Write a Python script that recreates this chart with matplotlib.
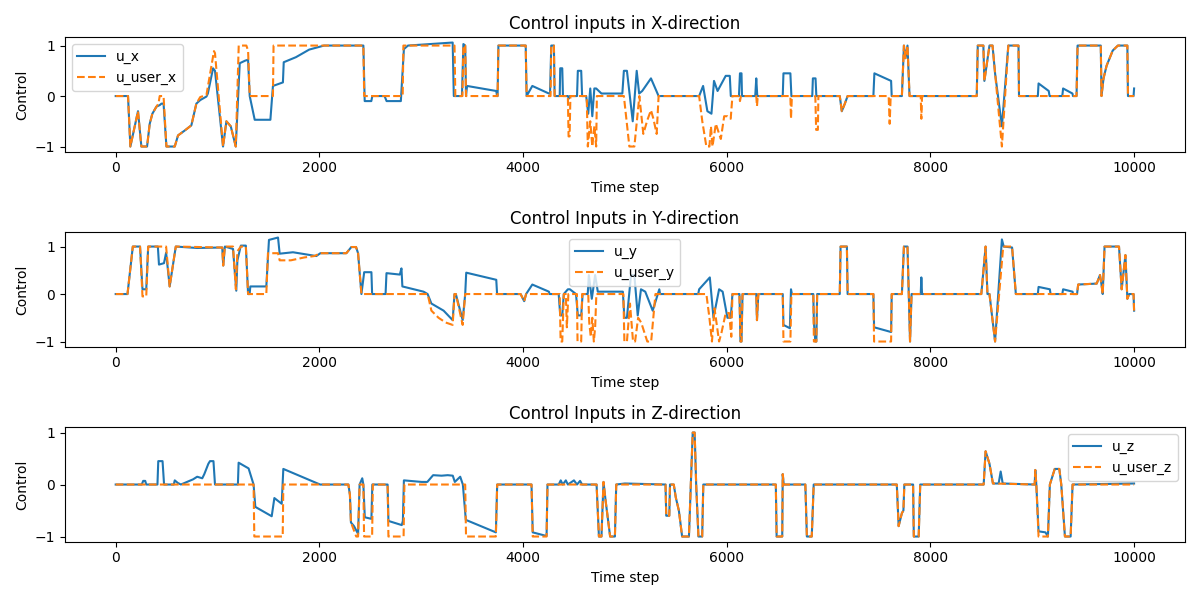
import numpy as np
import matplotlib.pyplot as plt

# (time step, value) breakpoints
u_x = [(0, 0), (121, 0), (144, -1), (219, -0.3), (252, -1), (308, -1), (334, -0.55), (360, -0.35),
       (400, -0.21), (432, -0.18), (450, -0.15), (470, -0.15), (498, -1), (580, -1), (612, -0.78),
       (680, -0.68), (743, -0.58), (792, -0.15), (830, -0.08), (891, -0.01), (905, 0.05), (956, 0.55),
       (975, 0.5), (1054, -1), (1087, -0.5), (1130, -0.6), (1179, -1), (1218, 0.65), (1270, 0.7),
       (1300, 0.72), (1316, 0), (1365, -0.47), (1519, -0.47), (1544, 0.2), (1642, 0.27), (1650, 0.67),
       (1770, 0.77), (1900, 0.92), (2046, 1.0), (2432, 1.0), (2445, -0.1), (2510, -0.1), (2520, 0),
       (2640, 0), (2660, -0.1), (2800, -0.1), (2830, 0.93), (2870, 1.0), (3309, 1.06), (3320, 0),
       (3400, 0), (3414, 1.03), (3432, 1.0), (3440, 0), (3450, 0.2), (3737, 0.1), (3745, 0), (3750, 0),
       (3758, 1), (4026, 1), (4035, 0), (4091, 0.2), (4254, 0.05), (4265, 0.05), (4277, 1), (4303, 1),
       (4310, 0), (4360, 0), (4365, 0.55), (4385, 0.55), (4392, 0), (4440, 0), (4450, -0.05), (4460, 0),
       (4530, 0), (4538, 0.5), (4571, 0.5), (4580, 0), (4620, 0), (4640, -0.35), (4660, 0.15),
       (4680, -0.4), (4700, 0.15), (4718, 0.15), (4770, 0.05), (4975, 0.05), (4990, 0.5), (5020, 0.5),
       (5077, -0.5), (5116, 0.5), (5140, 0.05), (5170, 0.1), (5256, 0.35), (5331, 0), (5729, 0),
       (5768, 0.2), (5810, -0.3), (5850, -0.35), (5875, 0.3), (5910, 0.1), (5990, 0.4), (6030, 0.4),
       (6040, 0), (6120, 0), (6130, 0.45), (6145, 0.45), (6150, 0), (6280, 0), (6290, 0.35), (6300, 0),
       (6550, 0), (6557, 0.45), (6625, 0.45), (6635, 0), (6840, 0), (6846, 0.35), (6872, 0.35), (6880, 0),
       (7110, 0), (7130, -0.3), (7160, -0.15), (7187, 0), (7440, 0), (7450, 0.45), (7614, 0.3), (7620, 0),
       (7720, 0), (7740, 1.0), (7755, 0.75), (7775, 1.0), (7795, 0), (8455, 0), (8465, 1), (8520, 1),
       (8530, 0.3), (8580, 1), (8610, 1), (8635, 0.45), (8702, -0.6), (8765, 1), (8865, 1), (8870, 0),
       (9055, 0), (9062, 0.25), (9162, 0.1), (9170, 0), (9295, 0), (9303, 0.15), (9395, 0.05), (9400, 0),
       (9435, 0), (9445, 1), (9673, 1), (9680, 0), (9700, 0.35), (9730, 0.6), (9790, 0.9), (9841, 1),
       (9934, 1), (9940, 0), (9995, 0), (10000, 0.15)]

u_user_x = [(0, 0), (121, 0), (144, -1), (219, -0.3), (252, -1), (308, -1), (334, -0.55), (360, -0.35),
            (400, -0.21), (420, -0.15), (432, 0), (470, 0), (498, -1), (580, -1), (612, -0.78),
            (680, -0.68), (743, -0.58), (792, -0.15), (830, -0.02), (891, 0.02), (965, 0.89), (975, 0.85),
            (1054, -1), (1087, -0.5), (1130, -0.6), (1179, -1), (1208, 1), (1283, 1), (1300, 0.9),
            (1316, 0), (1544, 0), (1550, 1), (2432, 1), (2440, 0), (2818, 0), (2825, 1), (3327, 1),
            (3335, 0), (3405, 0), (3414, 1), (3432, 1), (3440, 0), (3750, 0), (3758, 1), (4026, 1),
            (4035, 0), (4270, 0), (4277, 1), (4303, 1), (4310, 0), (4440, 0), (4447, -0.8), (4457, -0.8),
            (4465, 0), (4625, 0), (4636, -1), (4660, -0.5), (4680, -1), (4700, -0.6), (4718, -1), (4725, 0),
            (4990, 0), (5044, -1), (5093, -1), (5142, 0), (5181, -0.75), (5220, -0.48), (5256, -0.28),
            (5280, -0.45), (5312, -0.75), (5331, 0), (5729, 0), (5760, -0.5), (5800, -1), (5830, -1),
            (5845, -0.6), (5860, -1), (5893, -0.55), (5942, -0.85), (5975, -0.4), (6007, -0.4),
            (6039, -0.45), (6056, 0), (6125, 0), (6130, -0.1), (6140, 0), (6290, 0), (6297, -0.2),
            (6305, 0), (6625, 0), (6631, -0.45), (6640, 0), (6870, 0), (6878, -0.67), (6895, -0.67),
            (6900, 0), (7110, 0), (7130, -0.3), (7160, -0.15), (7187, 0), (7590, 0), (7600, -0.55),
            (7610, 0), (7720, 0), (7740, 1), (7755, 0.75), (7775, 1), (7795, 0), (7905, 0), (7911, -0.45),
            (7918, 0), (8455, 0), (8465, 1), (8520, 1), (8530, 0.3), (8580, 1), (8610, 1), (8702, -1),
            (8765, 1), (8865, 1), (8870, 0), (9435, 0), (9445, 1), (9673, 1), (9680, 0), (9700, 0.35),
            (9730, 0.6), (9790, 0.9), (9841, 1), (9934, 1), (9940, 0), (10000, 0)]

u_y = [(0, 0), (116, 0), (168, 1), (239, 1), (263, 0.1), (300, 0.1), (319, 1), (414, 1), (425, 0.62),
       (474, 0.65), (495, 0.87), (530, 0.16), (590, 1), (800, 0.97), (1046, 0.98), (1056, 0.6),
       (1072, 1.0), (1152, 0.95), (1184, 0.07), (1195, 0.71), (1229, 1.02), (1278, 1.02), (1300, 0),
       (1315, 0), (1322, 0.16), (1479, 0.16), (1505, 1.14), (1594, 1.19), (1610, 0.85), (1741, 0.88),
       (1970, 0.8), (2010, 0.86), (2265, 0.86), (2314, 0.99), (2360, 0.99), (2380, 0.86), (2413, 0),
       (2440, 0.46), (2511, 0.46), (2518, 0), (2650, 0), (2659, 0.44), (2790, 0.41), (2806, 0.54),
       (2815, 0.16), (3023, 0.05), (3063, 0), (3100, -0.2), (3220, -0.35), (3309, -0.55), (3327, 0),
       (3340, 0), (3407, -0.55), (3432, 0), (3442, 0.45), (3737, 0.3), (3745, 0), (3976, 0),
       (4011, -0.15), (4030, 0), (4091, 0.2), (4254, 0.05), (4260, 0), (4350, 0), (4365, -0.45),
       (4385, -0.45), (4400, 0), (4440, 0.1), (4460, 0.1), (4520, 0), (4538, -0.45), (4571, -0.45),
       (4585, 0), (4635, 0), (4646, 0.4), (4675, -0.1), (4708, 0.4), (4734, 0.05), (4980, 0.05),
       (4995, -0.5), (5020, -0.5), (5060, 0.4), (5093, 0.4), (5126, -0.45), (5158, 0.1), (5200, 0.05),
       (5273, -0.35), (5338, 0.1), (5345, 0), (5720, 0), (5729, 0.1), (5834, 0.35), (5870, -0.5),
       (5925, 0.1), (5960, 0.05), (6007, -0.5), (6040, -0.5), (6056, 0), (6125, 0), (6135, -1),
       (6145, -1), (6155, 0), (6290, 0), (6297, -0.55), (6310, 0), (6550, 0), (6557, -0.65),
       (6620, -0.72), (6631, 0.1), (6640, 0), (6850, 0), (6856, -0.6), (6870, -1), (6880, -1), (6888, 0),
       (7110, 0), (7118, 1), (7180, 1), (7187, 0), (7440, 0), (7447, -0.7), (7614, -0.8), (7620, 0),
       (7720, 0), (7740, 1), (7775, 1), (7800, -1), (7815, 0), (7905, 0), (7911, 0.35), (7918, 0),
       (8500, 0), (8542, 1), (8560, 0), (8580, 0), (8635, -1), (8702, 1.15), (8720, 1.0), (8802, 0.98),
       (8839, 0), (9055, 0), (9062, 0.15), (9173, 0.1), (9180, 0), (9295, 0), (9303, 0.1), (9396, 0.05),
       (9400, 0), (9440, 0), (9451, 0.2), (9633, 0.22), (9665, 0.4), (9680, 0.2), (9692, 0), (9710, 1),
       (9852, 1), (9878, 0.1), (9915, 0.82), (9934, -0.1), (9952, 0), (9995, 0), (10000, -0.35)]

u_user_y = [(0, 0), (116, 0), (168, 1), (239, 1), (263, -0.05), (300, -0.05), (319, 1), (495, 1),
            (530, 0.16), (590, 1), (1046, 0.98), (1056, 0.6), (1072, 1), (1152, 1), (1180, 0.1),
            (1195, 0.9), (1229, 1), (1278, 1), (1300, 0), (1479, 0), (1495, 0.86), (1594, 0.86),
            (1610, 0.71), (1720, 0.71), (1850, 0.77), (1950, 0.8), (2010, 0.86), (2265, 0.86),
            (2314, 0.99), (2360, 0.99), (2380, 0.86), (2413, 0), (3063, 0), (3100, -0.35), (3170, -0.5),
            (3240, -0.6), (3309, -0.65), (3327, 0), (3340, 0), (3407, -0.65), (3432, 0), (3976, 0),
            (4011, -0.15), (4030, 0), (4360, 0), (4369, -1), (4385, -1), (4400, 0), (4420, 0),
            (4430, -0.7), (4445, 0), (4529, 0), (4535, -1), (4571, -1), (4580, 0), (4640, 0), (4650, -0.6),
            (4665, -0.9), (4680, -0.5), (4695, -1), (4708, -0.7), (4720, 0), (4985, 0), (4995, -1),
            (5020, -1), (5050, -0.2), (5080, -1), (5100, -1), (5130, -0.5), (5160, -0.6), (5220, -1),
            (5258, -1), (5300, 0), (5800, 0), (5830, -0.5), (5855, -1), (5880, -0.3), (5925, -1),
            (5950, -0.8), (5990, -0.4), (6023, -0.4), (6045, -0.9), (6056, 0), (6125, 0), (6135, -1),
            (6145, -1), (6155, 0), (6290, 0), (6297, -0.55), (6310, 0), (6550, 0), (6557, -1), (6625, -1),
            (6635, 0), (6850, 0), (6856, -1), (6880, -1), (6888, 0), (7110, 0), (7118, 1), (7180, 1),
            (7187, 0), (7440, 0), (7447, -1), (7614, -1), (7620, 0), (7720, 0), (7740, 1), (7775, 1),
            (7800, -1), (7815, 0), (8500, 0), (8542, 1), (8560, 0), (8580, 0), (8635, -1), (8715, 1),
            (8802, 1), (8839, 0), (9440, 0), (9451, 0.2), (9633, 0.22), (9665, 0.4), (9680, 0.2), (9692, 0),
            (9710, 1), (9852, 1), (9878, 0.1), (9915, 0.82), (9934, -0.1), (9952, 0), (9995, 0),
            (10000, -0.35)]

u_z = [(0, 0), (256, 0), (270, 0.07), (290, 0.07), (300, 0), (410, 0), (418, 0.45), (460, 0.45),
       (475, 0), (570, 0), (580, 0.08), (610, 0.03), (640, 0), (760, 0.1), (800, 0.15), (850, 0.12),
       (870, 0.2), (910, 0.4), (926, 0.45), (960, 0.45), (975, 0), (1200, 0), (1207, 0.42), (1305, 0.31),
       (1354, 0), (1371, -0.43), (1532, -0.61), (1558, -0.26), (1630, -0.37), (1646, 0.3), (2007, 0),
       (2285, 0), (2300, -0.2), (2310, -0.73), (2340, -0.8), (2380, -0.95), (2395, 0), (2421, 0.12),
       (2432, 0), (2446, -0.63), (2511, -0.66), (2520, 0), (2670, 0), (2678, -0.7), (2809, -0.78),
       (2820, -0.7), (2830, 0.08), (3004, 0.05), (3060, 0.05), (3117, 0.18), (3200, 0.17), (3260, 0.18),
       (3310, 0.17), (3330, 0.05), (3383, 0.15), (3409, 0), (3438, -0.68), (3733, -0.92), (3746, 0),
       (4083, 0), (4095, -0.92), (4231, -0.99), (4240, 0), (4350, 0), (4370, 0.08), (4390, 0),
       (4420, 0.08), (4440, 0), (4500, 0.08), (4530, 0), (4560, 0.07), (4580, 0), (4722, 0), (4745, -1),
       (4770, -1), (4790, 0.05), (4810, -0.3), (4855, -1), (4902, -1), (4915, 0), (5000, 0.02),
       (5399, 0), (5406, -0.6), (5436, -0.6), (5443, 0), (5480, 0), (5500, -0.25), (5530, -0.5),
       (5562, -1), (5629, -1), (5647, 0), (5666, 1.0), (5685, 1.0), (5700, 0), (5722, -1), (5759, -1),
       (5770, 0), (6482, 0), (6490, -1), (6545, -1), (6550, 0.2), (6560, 0), (6772, 0), (6787, -1),
       (6835, -1), (6854, 0), (7670, 0), (7688, -0.8), (7720, -0.55), (7735, -0.5), (7744, 0), (7830, 0),
       (7837, -1), (7885, -1), (7900, 0), (8523, 0), (8542, 0.64), (8580, 0.4), (8614, 0.02),
       (8670, 0.02), (8690, 0.25), (8710, 0.02), (9024, 0), (9030, 0.28), (9040, 0), (9062, -0.9),
       (9130, -0.92), (9154, -1), (9173, 0), (9221, 0.3), (9266, 0.3), (9285, 0), (9321, -1), (9377, -1),
       (9396, 0), (10000, 0.02)]

u_user_z = [(0, 0), (1354, 0), (1361, -1), (1640, -1), (1646, 0), (2285, 0), (2300, -0.2), (2310, -0.73),
            (2362, -1), (2380, -1), (2395, 0), (2432, 0), (2439, -1), (2518, -1), (2525, 0), (2670, 0),
            (2678, -1), (2827, -1), (2835, 0), (3432, 0), (3440, -1), (3733, -1), (3746, 0), (4083, 0),
            (4095, -1), (4231, -1), (4240, 0), (4722, 0), (4745, -1), (4770, -1), (4790, 0.05), (4810, -0.3),
            (4855, -1), (4902, -1), (4915, 0), (5399, 0), (5406, -0.6), (5436, -0.6), (5443, 0), (5480, 0),
            (5500, -0.25), (5530, -0.5), (5562, -1), (5629, -1), (5647, 0), (5666, 1.0), (5685, 1.0),
            (5700, 0), (5722, -1), (5759, -1), (5770, 0), (6482, 0), (6490, -1), (6545, -1), (6550, 0.2),
            (6560, 0), (6772, 0), (6787, -1), (6835, -1), (6854, 0), (7670, 0), (7688, -0.8), (7720, -0.55),
            (7735, -0.5), (7744, 0), (7830, 0), (7837, -1), (7885, -1), (7900, 0), (8523, 0), (8542, 0.64),
            (8580, 0.4), (8614, 0.02), (9024, 0), (9030, 0.28), (9040, 0), (9062, -1), (9154, -1),
            (9173, 0), (9221, 0.3), (9266, 0.3), (9285, 0), (9321, -1), (9377, -1), (9396, 0), (10000, 0)]

panels = [
    ("Control inputs in X-direction", u_x, u_user_x, "u_x", "u_user_x", "upper left"),
    ("Control Inputs in Y-direction", u_y, u_user_y, "u_y", "u_user_y", "upper center"),
    ("Control Inputs in Z-direction", u_z, u_user_z, "u_z", "u_user_z", "upper right"),
]

fig, axes = plt.subplots(3, 1, figsize=(12, 6))
for ax, (title, u, uu, lab, lab_user, loc) in zip(axes, panels):
    t1, v1 = np.array(u).T
    t2, v2 = np.array(uu).T
    ax.plot(t1, v1, label=lab)
    ax.plot(t2, v2, "--", label=lab_user)
    ax.set_title(title)
    ax.set_xlabel("Time step")
    ax.set_ylabel("Control")
    ax.legend(loc=loc)

plt.tight_layout()
plt.savefig("out.png", dpi=100)
